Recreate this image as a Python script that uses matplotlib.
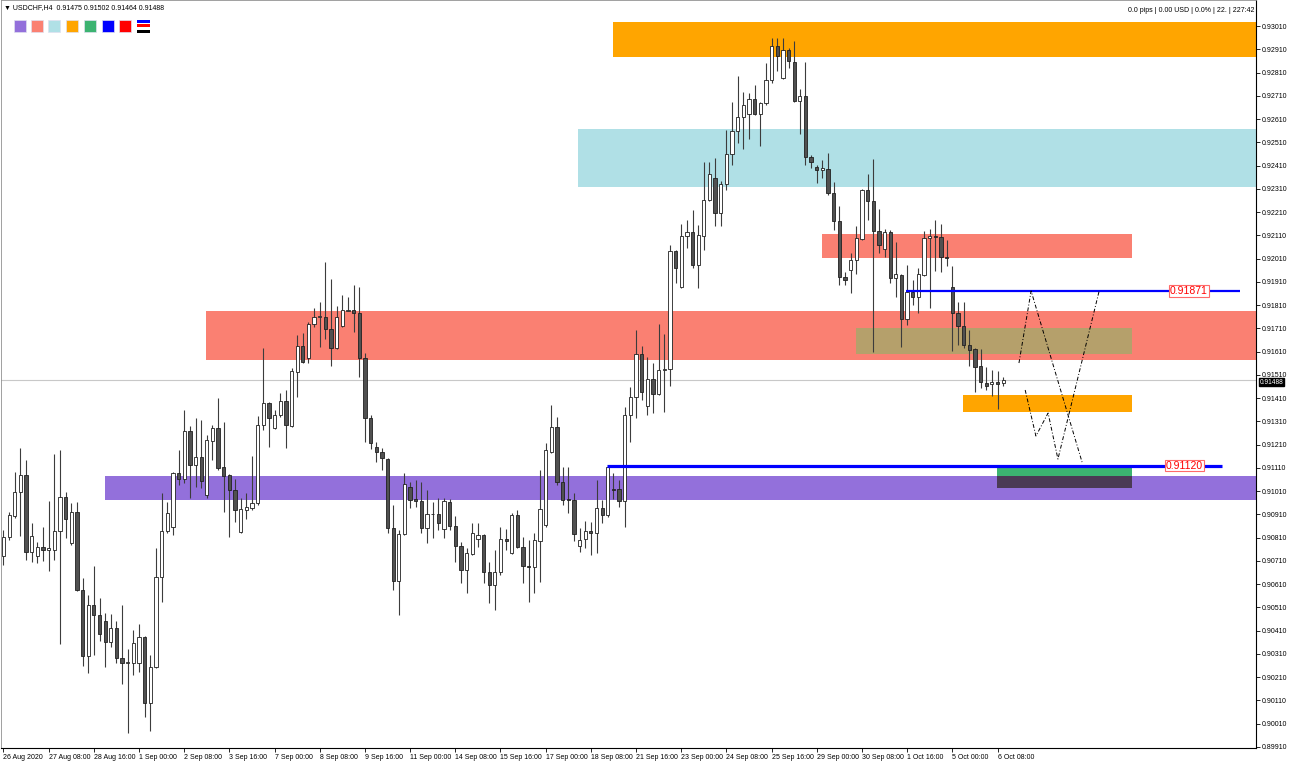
import matplotlib.pyplot as plt
from matplotlib.patches import Rectangle

plt.rcParams['font.family'] = ['Liberation Sans', 'DejaVu Sans']

# USDCHF H4, 26 Aug 2020 00:00 .. 6 Oct 2020 12:00 (bar index 0..177)
opens = [
    0.90731, 0.90813, 0.90903, 0.91006, 0.91080, 0.90748, 0.90731, 0.90770, 0.90757, 0.90757,
    0.90839, 0.90985, 0.90787, 0.90920, 0.90585, 0.90301, 0.90521, 0.90478, 0.90452, 0.90361,
    0.90422, 0.90293, 0.90271, 0.90271, 0.90271, 0.90383, 0.90099, 0.90254, 0.90641, 0.90839,
    0.90856, 0.91088, 0.91062, 0.91269, 0.91123, 0.91157, 0.90994, 0.91226, 0.91282, 0.91114,
    0.91080, 0.91015, 0.90834, 0.90929, 0.90938, 0.90959, 0.91295, 0.91389, 0.91282, 0.91338,
    0.91398, 0.91290, 0.91522, 0.91634, 0.91583, 0.91729, 0.91759, 0.91759, 0.91707, 0.91626,
    0.91720, 0.91785, 0.91789, 0.91776, 0.91583, 0.91325, 0.91200, 0.91178, 0.91148, 0.90852,
    0.90624, 0.90826, 0.91028, 0.90976, 0.90968, 0.90852, 0.90912, 0.90912, 0.90847, 0.90963,
    0.90860, 0.90774, 0.90671, 0.90740, 0.90804, 0.90822, 0.90662, 0.90606, 0.90662, 0.90804,
    0.90744, 0.90908, 0.90770, 0.90688, 0.90684, 0.90796, 0.90865, 0.91178, 0.91286, 0.91049,
    0.90976, 0.90972, 0.90774, 0.90804, 0.90839, 0.90830, 0.90938, 0.90908, 0.91019, 0.91019,
    0.90968, 0.91338, 0.91415, 0.91600, 0.91376, 0.91492, 0.91428, 0.91531, 0.91535, 0.92043,
    0.91888, 0.92107, 0.92124, 0.91983, 0.92107, 0.92262, 0.92357, 0.92206, 0.92331, 0.92460,
    0.92559, 0.92619, 0.92632, 0.92696, 0.92632, 0.92679, 0.92778, 0.92924, 0.92787, 0.92907,
    0.92855, 0.92688, 0.92709, 0.92447, 0.92404, 0.92391, 0.92395, 0.92292, 0.92172, 0.91931,
    0.91961, 0.92004, 0.92094, 0.92305, 0.92258, 0.92129, 0.92051, 0.92124, 0.91927, 0.91940,
    0.91750, 0.91866, 0.91845, 0.91940, 0.92099, 0.92107, 0.92103, 0.92017, 0.91888, 0.91776,
    0.91720, 0.91639, 0.91621, 0.91548, 0.91475, 0.91471, 0.91479, 0.91475,
]
highs = [
    0.90843, 0.90920, 0.91092, 0.91196, 0.91144, 0.90873, 0.90791, 0.90856, 0.90968, 0.91170,
    0.91187, 0.91006, 0.90959, 0.90963, 0.90637, 0.90564, 0.90688, 0.90551, 0.90486, 0.90482,
    0.90452, 0.90521, 0.90331, 0.90413, 0.90439, 0.90387, 0.90306, 0.90766, 0.91002, 0.90963,
    0.91092, 0.91187, 0.91359, 0.91290, 0.91325, 0.91316, 0.91252, 0.91295, 0.91411, 0.91307,
    0.91084, 0.91062, 0.90981, 0.91002, 0.91161, 0.91333, 0.91626, 0.91393, 0.91359, 0.91432,
    0.91445, 0.91540, 0.91682, 0.91690, 0.91737, 0.91798, 0.91823, 0.91995, 0.91922, 0.91806,
    0.91854, 0.91845, 0.91896, 0.91888, 0.91604, 0.91338, 0.91221, 0.91196, 0.91153, 0.90951,
    0.90843, 0.91088, 0.91049, 0.91058, 0.91049, 0.91015, 0.90963, 0.90981, 0.90981, 0.90976,
    0.90903, 0.90791, 0.90766, 0.90873, 0.90873, 0.90826, 0.90705, 0.90757, 0.90856, 0.90847,
    0.90916, 0.90929, 0.90813, 0.90800, 0.90830, 0.91101, 0.91217, 0.91381, 0.91329, 0.91114,
    0.91114, 0.91002, 0.90852, 0.90882, 0.90877, 0.91058, 0.90972, 0.91123, 0.91088, 0.91058,
    0.91372, 0.91458, 0.91703, 0.91634, 0.91587, 0.91561, 0.91729, 0.91686, 0.92068, 0.92047,
    0.92159, 0.92176, 0.92219, 0.92155, 0.92425, 0.92425, 0.92443, 0.92344, 0.92563, 0.92683,
    0.92795, 0.92726, 0.92722, 0.92757, 0.92683, 0.92851, 0.92959, 0.92959, 0.92959, 0.92916,
    0.92946, 0.92739, 0.92855, 0.92456, 0.92413, 0.92434, 0.92464, 0.92339, 0.92236, 0.91952,
    0.92034, 0.92150, 0.92309, 0.92374, 0.92438, 0.92223, 0.92137, 0.92133, 0.92081, 0.91944,
    0.91983, 0.91918, 0.91970, 0.92129, 0.92137, 0.92176, 0.92159, 0.92090, 0.91978, 0.91823,
    0.91823, 0.91703, 0.91626, 0.91621, 0.91544, 0.91531, 0.91527, 0.91502,
]
lows = [
    0.90693, 0.90800, 0.90895, 0.90817, 0.90714, 0.90705, 0.90701, 0.90710, 0.90667, 0.90714,
    0.90353, 0.90809, 0.90779, 0.90581, 0.90258, 0.90228, 0.90306, 0.90366, 0.90254, 0.90340,
    0.90271, 0.90181, 0.89970, 0.90220, 0.90232, 0.90039, 0.89979, 0.90250, 0.90533, 0.90830,
    0.90822, 0.91037, 0.91045, 0.90981, 0.91028, 0.91024, 0.90981, 0.91144, 0.91101, 0.90920,
    0.90813, 0.90877, 0.90830, 0.90890, 0.90929, 0.90951, 0.91273, 0.91200, 0.91277, 0.91329,
    0.91196, 0.91286, 0.91415, 0.91561, 0.91561, 0.91716, 0.91630, 0.91664, 0.91548, 0.91621,
    0.91716, 0.91785, 0.91694, 0.91501, 0.91221, 0.91191, 0.91135, 0.91101, 0.90830, 0.90585,
    0.90478, 0.90822, 0.90938, 0.90942, 0.90830, 0.90787, 0.90809, 0.90843, 0.90809, 0.90843,
    0.90705, 0.90615, 0.90572, 0.90736, 0.90770, 0.90615, 0.90529, 0.90499, 0.90649, 0.90757,
    0.90740, 0.90766, 0.90615, 0.90533, 0.90572, 0.90619, 0.90856, 0.91174, 0.91037, 0.90951,
    0.90916, 0.90796, 0.90748, 0.90766, 0.90736, 0.90744, 0.90873, 0.90899, 0.90976, 0.90942,
    0.90856, 0.91221, 0.91325, 0.91402, 0.91338, 0.91346, 0.91423, 0.91350, 0.91462, 0.91905,
    0.91884, 0.92056, 0.91970, 0.91884, 0.92047, 0.92258, 0.92150, 0.92150, 0.92305, 0.92413,
    0.92507, 0.92481, 0.92524, 0.92628, 0.92494, 0.92671, 0.92765, 0.92817, 0.92782, 0.92830,
    0.92683, 0.92546, 0.92413, 0.92400, 0.92335, 0.92357, 0.92284, 0.92133, 0.91897, 0.91897,
    0.91862, 0.91944, 0.92090, 0.92176, 0.91608, 0.92034, 0.92017, 0.91905, 0.91845, 0.91630,
    0.91725, 0.91811, 0.91776, 0.91935, 0.91798, 0.91957, 0.91952, 0.91978, 0.91613, 0.91639,
    0.91626, 0.91548, 0.91436, 0.91454, 0.91445, 0.91419, 0.91363, 0.91464,
]
closes = [
    0.90813, 0.90908, 0.91006, 0.91080, 0.90748, 0.90817, 0.90770, 0.90757, 0.90766, 0.90839,
    0.90985, 0.90890, 0.90920, 0.90585, 0.90301, 0.90521, 0.90478, 0.90396, 0.90361, 0.90422,
    0.90293, 0.90271, 0.90275, 0.90357, 0.90383, 0.90099, 0.90254, 0.90641, 0.90839, 0.90916,
    0.91088, 0.91062, 0.91269, 0.91123, 0.91157, 0.91054, 0.91230, 0.91282, 0.91110, 0.91075,
    0.91015, 0.90929, 0.90933, 0.90942, 0.90959, 0.91295, 0.91389, 0.91325, 0.91338, 0.91398,
    0.91295, 0.91527, 0.91634, 0.91565, 0.91729, 0.91759, 0.91763, 0.91707, 0.91626, 0.91759,
    0.91789, 0.91789, 0.91776, 0.91583, 0.91325, 0.91217, 0.91178, 0.91153, 0.90852, 0.90624,
    0.90826, 0.91041, 0.90972, 0.90968, 0.90852, 0.90912, 0.90913, 0.90873, 0.90968, 0.90860,
    0.90774, 0.90671, 0.90744, 0.90830, 0.90822, 0.90662, 0.90606, 0.90662, 0.90804, 0.90796,
    0.90908, 0.90770, 0.90688, 0.90684, 0.90800, 0.90933, 0.91187, 0.91286, 0.91049, 0.90972,
    0.90972, 0.90826, 0.90800, 0.90839, 0.90830, 0.90938, 0.90908, 0.91114, 0.91015, 0.90968,
    0.91338, 0.91415, 0.91600, 0.91436, 0.91492, 0.91428, 0.91531, 0.91535, 0.92043, 0.91970,
    0.92107, 0.92124, 0.91983, 0.92112, 0.92262, 0.92374, 0.92206, 0.92331, 0.92460, 0.92559,
    0.92619, 0.92671, 0.92696, 0.92632, 0.92679, 0.92778, 0.92924, 0.92881, 0.92907, 0.92860,
    0.92688, 0.92709, 0.92447, 0.92425, 0.92391, 0.92400, 0.92292, 0.92172, 0.91931, 0.91918,
    0.92004, 0.92099, 0.92305, 0.92258, 0.92129, 0.92068, 0.92124, 0.91927, 0.91944, 0.91750,
    0.91866, 0.91845, 0.91944, 0.92099, 0.92107, 0.92103, 0.92017, 0.92013, 0.91776, 0.91720,
    0.91639, 0.91617, 0.91544, 0.91479, 0.91462, 0.91479, 0.91471, 0.91488,
]

time_labels = [
    '26 Aug 2020', '27 Aug 08:00', '28 Aug 16:00', '1 Sep 00:00', '2 Sep 08:00',
    '3 Sep 16:00', '7 Sep 00:00', '8 Sep 08:00', '9 Sep 16:00', '11 Sep 00:00',
    '14 Sep 08:00', '15 Sep 16:00', '17 Sep 00:00', '18 Sep 08:00', '21 Sep 16:00',
    '23 Sep 00:00', '24 Sep 08:00', '25 Sep 16:00', '29 Sep 00:00', '30 Sep 08:00',
    '1 Oct 16:00', '5 Oct 00:00', '6 Oct 08:00',
]
label_step = 8

price_ticks = [round(0.89910 + 0.001 * k, 5) for k in range(32)]

# zones: (first bar, last bar, low, high, colour); None = runs to the right edge
zone_start = [108, 101.8, 145, 35.9, 151, 169.9, 17.9, 175.9, 175.9]
zone_end = [None, None, 199.8, None, 199.8, 199.8, None, 199.8, 199.8]
zone_low = [0.92877, 0.92318, 0.92013, 0.91574, 0.91600, 0.91350, 0.90972, 0.91075, 0.91024]
zone_high = [0.93027, 0.92567, 0.92116, 0.91785, 0.91712, 0.91424, 0.91075, 0.91118, 0.91075]
zone_color = ['#FFA500', '#B0E0E6', '#FA8072', '#FA8072', '#B5A06B',
              '#FFA500', '#9370DB', '#3CB371', '#4B3A55']

level_prices = [0.91871, 0.91120]
level_start = [159.8, 106.9]
level_end = [219.0, 215.7]

# projected zigzags
path_a_bar = [179.8, 181.95, 190.97]
path_a_price = [0.91561, 0.91871, 0.91135]
path_b_bar = [180.9, 182.8, 184.96, 186.7, 194.0]
path_b_price = [0.91445, 0.91247, 0.91346, 0.91148, 0.91871]

bid = 0.91488

W, H = 1290, 765
fig = plt.figure(figsize=(W / 100, H / 100), dpi=100)
fig.patch.set_facecolor('white')
ax = fig.add_axes([0.5 / W, 17 / H, 1255.5 / W, 748 / H])
ax.set_xlim(-0.53, 221.77)
ax.set_ylim(0.899056, 0.93122)

# zones
for x0, x1, lo, hi, c in zip(zone_start, zone_end, zone_low, zone_high, zone_color):
    if x1 is None:
        x1 = 230
    ax.add_patch(Rectangle((x0, lo), x1 - x0, hi - lo, facecolor=c,
                           edgecolor='none', zorder=1))

ax.axhline(bid, color='#C8C8C8', lw=0.8, zorder=2)

# candles
n = len(opens)
bars = list(range(n))
ax.vlines(bars, lows, highs, color='#3c3c3c', lw=0.8, zorder=3)
bottoms = [min(o, c) for o, c in zip(opens, closes)]
heights = [max(abs(c - o), 0.000005) for o, c in zip(opens, closes)]
fills = ['white' if c >= o else '#505050' for o, c in zip(opens, closes)]
ax.bar(bars, heights, bottom=bottoms, width=0.58, color=fills,
       edgecolor='#202020', linewidth=0.6, zorder=4)

# horizontal levels
ax.hlines(level_prices[0], level_start[0], level_end[0], color='#0000FF', lw=1.6, zorder=5)
ax.hlines(level_prices[1], level_start[1], level_end[1], color='#0000FF', lw=2.3, zorder=5)
for p, xb in zip(level_prices, [209.9, 209.1]):
    ax.text(xb, p, f'{p:.5f}', color='#FF0000', fontsize=7.5, ha='center', va='center',
            zorder=7, bbox=dict(facecolor='white', edgecolor='#FF6A6A', lw=0.8, pad=0.6))

# projections
ax.plot(path_a_bar, path_a_price, color='black', lw=0.7, ls=(0, (4, 2, 1, 2)), zorder=6)
ax.plot(path_b_bar, path_b_price, color='black', lw=0.7, ls=(0, (4, 2, 1, 2)), zorder=6)

# axes styling
for side in ['left', 'top']:
    ax.spines[side].set_color('#909090')
    ax.spines[side].set_linewidth(0.6)
for side in ['right', 'bottom']:
    ax.spines[side].set_color('black')
    ax.spines[side].set_linewidth(0.8)

ax.yaxis.tick_right()
ax.set_yticks(price_ticks)
ax.set_yticklabels([f'{p:.5f}' for p in price_ticks])
ax.tick_params(axis='y', direction='out', length=3, width=0.6, pad=1.5,
               labelsize=5, colors='black')
ax.set_xticks([i * label_step for i in range(len(time_labels))])
ax.set_xticklabels(time_labels, ha='left')
ax.tick_params(axis='x', direction='out', length=3, width=0.6, pad=1.5,
               labelsize=5, colors='black')

# bid tag sits just under the 0.91510 tick label
ax.annotate(f'{bid:.5f}', xy=(1.0, bid), xycoords=('axes fraction', 'data'),
            xytext=(2.5, -1.6), textcoords='offset points', fontsize=4.8, color='white',
            va='center', ha='left', zorder=8,
            bbox=dict(facecolor='black', edgecolor='black', pad=0.4))

# header
fig.text(4 / W, 1 - 7.5 / H, '\u25bc USDCHF,H4  0.91475 0.91502 0.91464 0.91488',
         fontsize=5, va='center', ha='left')
fig.text(1254 / W, 1 - 11 / H, '0.0 pips | 0.00 USD | 0.0% | 22. | 227:42',
         fontsize=5, va='center', ha='right')

swatches = ['#9370DB', '#FA8072', '#B0E0E6', '#FFA500', '#3CB371', '#0000FF', '#FF0000']
swatch_x = [14, 31, 48, 66, 84, 102, 119]
for px, c in zip(swatch_x, swatches):
    fig.add_artist(Rectangle((px / W, 1 - 32 / H), 12 / W, 12 / H, transform=fig.transFigure,
                             facecolor=c, edgecolor='#E0E0F0', lw=0.5))
for y0, y1, c in [(20, 22.5, '#0000FF'), (24, 27, '#FF0000'), (30, 33, 'black')]:
    fig.add_artist(Rectangle((137 / W, 1 - y1 / H), 13 / W, (y1 - y0) / H,
                             transform=fig.transFigure, facecolor=c, edgecolor='none'))

fig.savefig('out.png', dpi=100)
